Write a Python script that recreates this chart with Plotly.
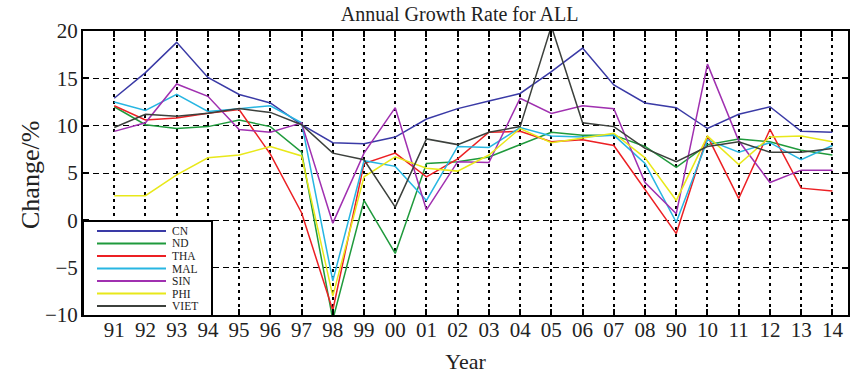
import plotly.graph_objects as go

years = ["91", "92", "93", "94", "95", "96", "97", "98", "99", "00", "01", "02",
         "03", "04", "05", "06", "07", "08", "90", "10", "11", "12", "13", "14"]

CN   = [12.9, 15.6, 18.8, 15.1, 13.3, 12.4, 10.1, 8.2, 8.1, 8.8, 10.7, 11.8,
        12.6, 13.4, 15.7, 18.2, 14.3, 12.4, 11.9, 9.7, 11.2, 12.0, 9.4, 9.3]
ND   = [12.0, 10.1, 9.7, 9.9, 10.6, 9.9, 7.2, -10.5, 2.1, -3.5, 6.0, 6.2,
        6.7, 8.0, 9.3, 9.0, 9.0, 7.8, 5.6, 8.0, 8.6, 8.3, 7.4, 6.9]
THA  = [12.1, 10.6, 10.8, 11.3, 11.7, 7.0, 0.8, -9.5, 6.0, 7.1, 4.6, 6.5,
        9.3, 9.4, 8.3, 8.5, 7.9, 3.2, -1.4, 8.9, 2.3, 9.6, 3.4, 3.1]
MAL  = [12.5, 11.6, 13.3, 11.5, 11.8, 12.1, 10.3, -6.4, 6.3, 5.7, 2.1, 7.8,
        7.7, 9.8, 8.9, 8.8, 9.0, 6.0, -0.2, 8.5, 7.2, 8.2, 6.4, 7.9]
SIN  = [9.4, 10.3, 14.4, 13.1, 9.6, 9.3, 10.3, -0.3, 7.1, 11.9, 1.1, 6.2,
        6.1, 12.9, 11.3, 12.1, 11.8, 4.0, 0.7, 16.5, 8.4, 4.0, 5.3, 5.3]
PHI  = [2.6, 2.6, 4.8, 6.6, 6.9, 7.8, 6.8, -8.0, 4.6, 6.7, 5.5, 5.2,
        6.9, 9.7, 8.2, 8.7, 9.2, 6.6, 2.1, 8.9, 5.9, 8.8, 8.9, 8.3]
VIET = [9.8, 11.2, 11.0, 11.3, 11.8, 11.4, 10.1, 7.1, 6.4, 1.4, 8.6, 8.0,
        9.3, 9.9, 20.5, 10.3, 9.9, 7.6, 6.2, 7.8, 8.3, 7.2, 7.2, 7.6]

series = [("CN", CN, "#3a3aa6"), ("ND", ND, "#1f9a3c"), ("THA", THA, "#ec2024"),
          ("MAL", MAL, "#27b6e2"), ("SIN", SIN, "#a030b0"), ("PHI", PHI, "#e8e81a"),
          ("VIET", VIET, "#3c403c")]

W, H = 859, 374
ML, MR, MT, MB = 83, 11, 31, 59
PW, PH = W - ML - MR, H - MT - MB
serif = "Liberation Serif, Times New Roman, serif"

fig = go.Figure()
for name, vals, col in series:
    fig.add_trace(go.Scatter(x=years, y=vals, name=name, mode="lines",
                             line=dict(color=col, width=1.5), showlegend=False))

# helpers: pixel layout -> paper coordinates
def px(xp):
    return (xp - ML) / PW

def py(yp):
    return (H - MB - yp) / PH

# custom compact legend
shapes = [dict(type="rect", xref="paper", yref="paper",
               x0=px(ML), x1=px(212), y0=py(316), y1=py(221),
               line=dict(color="black", width=2), fillcolor="white", layer="above")]
annotations = []
for i, (name, vals, col) in enumerate(series):
    yy = 231 + i * 12.5
    shapes.append(dict(type="line", xref="paper", yref="paper",
                       x0=px(97), x1=px(166), y0=py(yy), y1=py(yy),
                       line=dict(color=col, width=2), layer="above"))
    annotations.append(dict(xref="paper", yref="paper", x=px(171), y=py(yy),
                            xanchor="left", yanchor="middle", text=name,
                            showarrow=False, borderpad=0,
                            font=dict(size=11.5, family=serif, color="#222222")))

# y-axis title as rotated text
annotations.append(dict(xref="paper", yref="paper", x=px(30), y=py(175),
                        xanchor="center", yanchor="middle", text="Change/%",
                        textangle=-90, showarrow=False,
                        font=dict(size=26, family=serif, color="#222222")))

fig.update_layout(
    width=W, height=H,
    margin=dict(l=ML, r=MR, t=MT, b=MB, autoexpand=False),
    paper_bgcolor="white", plot_bgcolor="white",
    font=dict(family=serif, color="#222222", size=20),
    title=dict(text="Annual Growth Rate for ALL", x=0.535, xanchor="center",
               y=1 - 14 / H, yanchor="middle", font=dict(size=20, family=serif)),
    showlegend=False,
    shapes=shapes,
    annotations=annotations,
)
fig.update_xaxes(type="category", range=[-1, 23.5], automargin=False,
                 showline=True, linecolor="black", linewidth=2, mirror="ticks",
                 ticks="inside", ticklen=6, tickwidth=1.5, tickcolor="black",
                 showgrid=True, gridcolor="black", gridwidth=1.6, griddash="3px,4px",
                 tickfont=dict(size=21, family=serif), ticklabelstandoff=-5,
                 title=dict(text="Year", font=dict(size=22, family=serif), standoff=12))
fig.update_yaxes(range=[-10, 20], tickvals=[-10, -5, 0, 5, 10, 15, 20], automargin=False,
                 showline=True, linecolor="black", linewidth=2, mirror="ticks",
                 ticks="inside", ticklen=6, tickwidth=1.5, tickcolor="black",
                 showgrid=True, gridcolor="black", gridwidth=1.3, griddash="6px,4px",
                 zeroline=False, ticklabelstandoff=-1,
                 tickfont=dict(size=21, family=serif))

fig.write_html("out.html", config={"displayModeBar": False},
               post_script="document.body.style.margin='0';")
